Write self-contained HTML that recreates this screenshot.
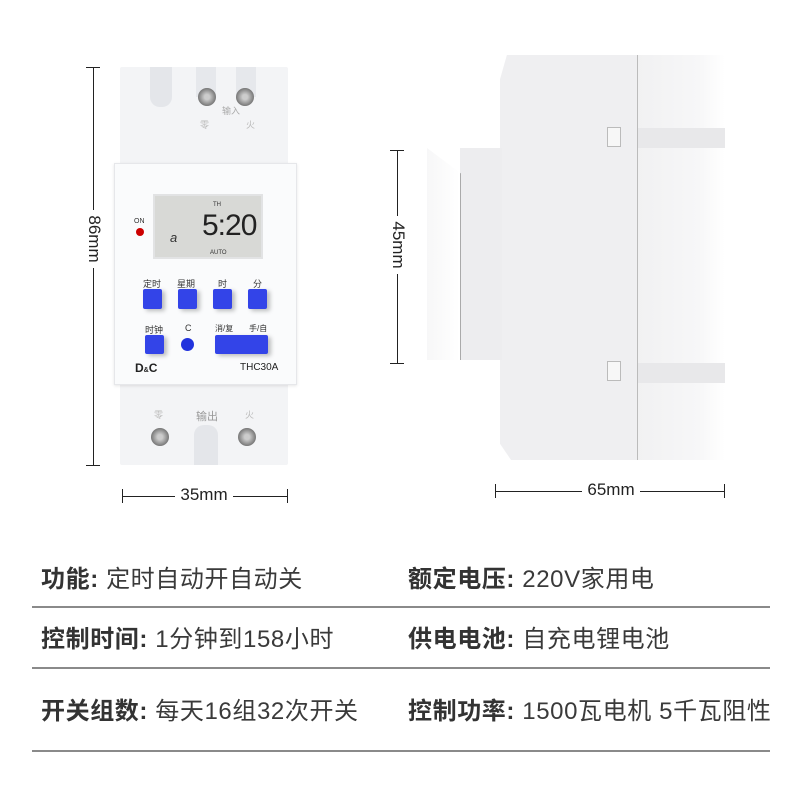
<!DOCTYPE html>
<html><head><meta charset="utf-8"><style>
body{margin:0;width:800px;height:800px;background:#fff;position:relative;overflow:hidden;font-family:"Liberation Sans","Noto Sans CJK SC",sans-serif}
.a{position:absolute}
.t{position:absolute;font-size:24px;letter-spacing:0.6px;color:#3a3a3a;white-space:nowrap;line-height:28px}
.t b{font-weight:bold;color:#333}
.hl{position:absolute;left:32px;width:738px;height:1.5px;background:#8a8a8a}
.btn{position:absolute;width:19px;height:20px;background:#3344e8;border-radius:2px;box-shadow:3px 2px 4px rgba(0,0,0,.25)}
.lb{position:absolute;font-size:9px;color:#333}
.screw{position:absolute;width:18px;height:18px;border-radius:50%;background:radial-gradient(circle,#ccc 20%,#777 70%,#444);}
.dim{position:absolute;background:#222}
.dt{position:absolute;background:#fff;text-align:center;font-size:17px;color:#222}
</style></head><body>
<!-- front device -->
<div class="a" style="left:120px;top:67px;width:168px;height:398px;background:#f3f4f6;border-radius:2px"></div>
<div class="a" style="left:150px;top:67px;width:22px;height:40px;background:#e4e6ea;border-radius:0 0 10px 10px"></div>
<div class="a" style="left:196px;top:67px;width:20px;height:30px;background:#e6e8ec"></div>
<div class="a" style="left:236px;top:67px;width:20px;height:30px;background:#e6e8ec"></div>
<div class="a" style="left:194px;top:425px;width:24px;height:40px;background:#e4e6ea;border-radius:10px 10px 0 0"></div>
<div class="screw" style="left:198px;top:88px"></div>
<div class="screw" style="left:236px;top:88px"></div>
<div class="screw" style="left:151px;top:428px"></div>
<div class="screw" style="left:238px;top:428px"></div>
<div class="lb" style="left:222px;top:104px;color:#aaa">输入</div>
<div class="lb" style="left:200px;top:118px;color:#bbb">零</div>
<div class="lb" style="left:246px;top:118px;color:#bbb">火</div>
<div class="lb" style="left:154px;top:408px;color:#bbb">零</div>
<div class="lb" style="left:196px;top:408px;color:#999;font-size:11px">输出</div>
<div class="lb" style="left:245px;top:408px;color:#bbb">火</div>
<div class="a" style="left:114px;top:163px;width:181px;height:220px;background:#fafbfc;border:1px solid #e6e7ea;box-shadow:0 1px 3px rgba(0,0,0,.1)"></div>
<div class="a" style="left:153px;top:194px;width:110px;height:65px;background:#d8d9d6;border:2px solid #e2e3e4;box-sizing:border-box"></div>
<div class="a" style="left:213px;top:202px;font-size:6px;color:#333">TH</div>
<div class="a" style="left:202px;top:210px;font-size:30px;color:#222;letter-spacing:-1px;line-height:32px">5:20</div>
<div class="a" style="left:170px;top:230px;font-size:13px;color:#333;font-style:italic">a</div>
<div class="a" style="left:210px;top:250px;font-size:6px;color:#333">AUTO</div>
<div class="lb" style="left:134px;top:218px;font-size:7px">ON</div>
<div class="a" style="left:136px;top:228px;width:8px;height:8px;border-radius:50%;background:#c00"></div>
<div class="lb" style="left:143px;top:277px">定时</div>
<div class="lb" style="left:177px;top:277px">星期</div>
<div class="lb" style="left:218px;top:277px">时</div>
<div class="lb" style="left:253px;top:277px">分</div>
<div class="btn" style="left:143px;top:289px"></div>
<div class="btn" style="left:178px;top:289px"></div>
<div class="btn" style="left:213px;top:289px"></div>
<div class="btn" style="left:248px;top:289px"></div>
<div class="lb" style="left:145px;top:323px">时钟</div>
<div class="lb" style="left:185px;top:323px">C</div>
<div class="lb" style="left:215px;top:323px;font-size:8px">消/复</div>
<div class="lb" style="left:249px;top:323px;font-size:8px">手/自</div>
<div class="btn" style="left:145px;top:335px;height:19px"></div>
<div class="a" style="left:181px;top:338px;width:13px;height:13px;border-radius:50%;background:#2233dd"></div>
<div class="btn" style="left:215px;top:335px;width:53px;height:19px"></div>
<div class="a" style="left:135px;top:361px;font-size:12px;font-weight:bold;color:#222">D<span style="font-size:7px">&amp;</span>C</div>
<div class="a" style="left:240px;top:362px;font-size:10px;color:#222">THC30A</div>
<!-- dims front -->
<div class="dim" style="left:93px;top:67px;width:1px;height:398px"></div>
<div class="dim" style="left:86px;top:67px;width:14px;height:1px"></div>
<div class="dim" style="left:86px;top:465px;width:14px;height:1px"></div>
<div class="dt" style="left:64px;top:228px;width:58px;height:22px;transform:rotate(90deg)">86mm</div>
<div class="dim" style="left:122px;top:496px;width:165px;height:1px"></div>
<div class="dim" style="left:122px;top:489px;width:1px;height:14px"></div>
<div class="dim" style="left:287px;top:489px;width:1px;height:14px"></div>
<div class="dt" style="left:175px;top:485px;width:58px">35mm</div>
<!-- side device -->
<div class="a" style="left:637px;top:55px;width:88px;height:405px;background:linear-gradient(90deg,#f1f1f2,#f7f7f8 70%,#fff)"></div>
<div class="a" style="left:637px;top:128px;width:88px;height:20px;background:#e8e8ea"></div>
<div class="a" style="left:637px;top:363px;width:88px;height:20px;background:#e8e8ea"></div>
<div class="a" style="left:500px;top:55px;width:137px;height:405px;background:#efeff1;border-right:1px solid #bbb;clip-path:polygon(5% 0,100% 0,100% 100%,8% 100%,0 96%,0 6%)"></div>
<div class="a" style="left:460px;top:148px;width:42px;height:212px;background:#ededef"></div>
<div class="a" style="left:427px;top:148px;width:33px;height:212px;background:linear-gradient(90deg,#f7f7f8,#fff);border-right:1px solid #aaa;clip-path:polygon(0 0,100% 12%,100% 100%,0 100%)"></div>
<div class="a" style="left:607px;top:127px;width:12px;height:18px;border:1px solid #bbb;background:#f7f7f7"></div>
<div class="a" style="left:607px;top:361px;width:12px;height:18px;border:1px solid #bbb;background:#f7f7f7"></div>
<div class="dim" style="left:397px;top:150px;width:1px;height:213px"></div>
<div class="dim" style="left:390px;top:150px;width:14px;height:1px"></div>
<div class="dim" style="left:390px;top:363px;width:14px;height:1px"></div>
<div class="dt" style="left:368px;top:234px;width:58px;height:22px;transform:rotate(90deg)">45mm</div>
<div class="dim" style="left:495px;top:491px;width:229px;height:1px"></div>
<div class="dim" style="left:495px;top:484px;width:1px;height:14px"></div>
<div class="dim" style="left:724px;top:484px;width:1px;height:14px"></div>
<div class="dt" style="left:582px;top:480px;width:58px">65mm</div>
<!-- table -->
<div class="t" style="left:41px;top:566px"><b>功能:</b> 定时自动开自动关</div>
<div class="t" style="left:408px;top:566px"><b>额定电压:</b> 220V家用电</div>
<div class="hl" style="top:606px"></div>
<div class="t" style="left:41px;top:626px"><b>控制时间:</b> 1分钟到158小时</div>
<div class="t" style="left:408px;top:626px"><b>供电电池:</b> 自充电锂电池</div>
<div class="hl" style="top:667px"></div>
<div class="t" style="left:41px;top:698px"><b>开关组数:</b> 每天16组32次开关</div>
<div class="t" style="left:408px;top:698px"><b>控制功率:</b> 1500瓦电机 5千瓦阻性</div>
<div class="hl" style="top:750px"></div>
</body></html>
